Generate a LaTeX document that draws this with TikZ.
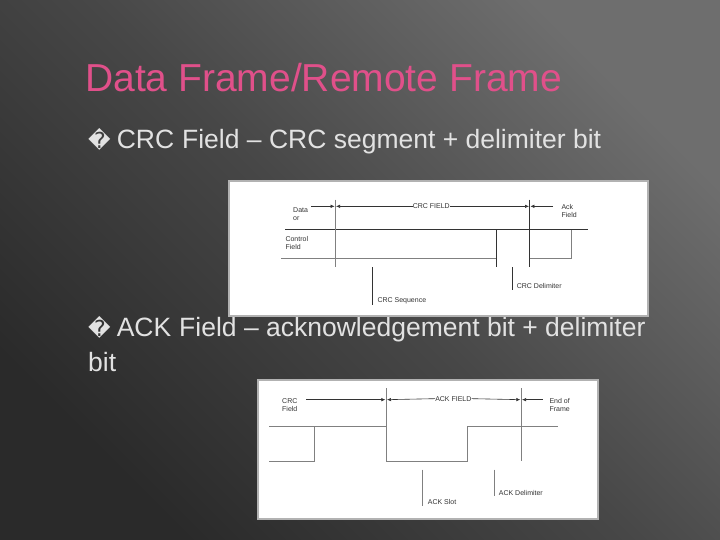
\documentclass[tikz,border=0pt]{standalone}
\usepackage{fontspec}
\setmainfont{Liberation Sans}
\newfontfamily\dejavu{DejaVu Sans}
\definecolor{titlepink}{HTML}{E0508A}
\definecolor{bodytext}{HTML}{E2E2E2}
\definecolor{bgdark}{HTML}{2A2A2A}
\definecolor{bglight}{HTML}{6E6E6E}
\definecolor{bgmid}{HTML}{474747}
\definecolor{ink}{HTML}{333333}
\usetikzlibrary{arrows.meta}
\begin{document}
\begin{tikzpicture}[x=1pt,y=-1pt,
  bodyline/.style={anchor=base west,text=bodytext,font=\fontsize{26.5}{30}\selectfont,inner sep=0},
  lab/.style={font=\fontsize{7}{8}\selectfont,text=ink,inner sep=0,align=left},
  sig/.style={draw=ink,line width=0.7pt},
  thin/.style={draw=gray,line width=0.5pt},
  arr/.style={draw=ink,line width=0.6pt,-{Latex[length=4pt,width=3.5pt]}},
  panel/.style={fill=white,draw=gray!60,line width=1.2pt}]
\shade[top color=bglight,bottom color=bgdark,middle color=bgmid,shading angle=-45] (0,0) rectangle (720,540);
\useasboundingbox (0,0) rectangle (720,540);
\node[anchor=base west,text=titlepink,font=\fontsize{39}{44}\selectfont,inner sep=0] (title) at (85,92) {Data Frame/Remote Frame};
\node[bodyline] (b1) at (88,149) {{\dejavu\fontsize{22}{24}\selectfont �}\hspace{6pt}CRC\hspace{8pt}Field – CRC segment + delimiter bit};
\node[bodyline] (b2) at (88,336) {{\dejavu\fontsize{22}{24}\selectfont �}\hspace{6pt}ACK\hspace{8pt}Field – acknowledgement bit + delimiter};
\node[bodyline] (b3) at (88,371) {bit};
% figure 1
\draw[panel] (229,181) rectangle (648,316);
\def\X#1{228+#1/3}\def\Y#1{178+#1/3}
\draw[sig] ({\X{172}},{\Y{155}}) -- ({\X{1080}},{\Y{155}});
\draw[thin] ({\X{160}},{\Y{242}}) -- ({\X{805}},{\Y{242}});
\draw[thin] ({\X{322}},{\Y{65}}) -- ({\X{322}},{\Y{268}});
\draw[sig] ({\X{805}},{\Y{155}}) -- ({\X{805}},{\Y{268}});
\draw[sig] ({\X{905}},{\Y{65}}) -- ({\X{905}},{\Y{268}});
\draw[thin] ({\X{905}},{\Y{242}}) -- ({\X{1030}},{\Y{242}}) -- ({\X{1030}},{\Y{155}});
\draw[sig] ({\X{432}},{\Y{268}}) -- ({\X{432}},{\Y{380}});
\draw[sig] ({\X{852}},{\Y{268}}) -- ({\X{852}},{\Y{335}});
\node[lab,anchor=west] (dc) at ({\X{195}},{\Y{108}}) {Data\\or};
\node[lab,anchor=west] (cf) at ({\X{172}},{\Y{195}}) {Control\\Field};
\node[lab] (crcf) at ({\X{610}},{\Y{85}}) {CRC FIELD};
\node[lab,anchor=west] (ackf) at ({\X{1000}},{\Y{100}}) {Ack\\Field};
\node[lab,anchor=west] (seq) at ({\X{448}},{\Y{368}}) {CRC Sequence};
\node[lab,anchor=west] (del) at ({\X{866}},{\Y{325}}) {CRC Delimiter};
\coordinate (a1) at ({\X{250}},{\Y{85}}); \coordinate (a2) at ({\X{320}},{\Y{85}});
\coordinate (a4) at ({\X{324}},{\Y{85}});
\coordinate (a6) at ({\X{903}},{\Y{85}});
\coordinate (a7) at ({\X{975}},{\Y{85}}); \coordinate (a8) at ({\X{907}},{\Y{85}});
\draw[arr] (a1) -- (a2);
\draw[arr] (crcf.west) -- (a4);
\draw[arr] (crcf.east) -- (a6);
\draw[arr] (a7) -- (a8);
% figure 2
\draw[panel] (258,380) rectangle (598,519);
\def\U#1{256+#1/3}\def\V#1{378+#1/3}
\draw[thin] ({\U{40}},{\V{145}}) -- ({\U{175}},{\V{145}});
\draw[thin] ({\U{40}},{\V{250}}) -- ({\U{175}},{\V{250}}) -- ({\U{175}},{\V{145}}) -- ({\U{390}},{\V{145}})
  -- ({\U{390}},{\V{250}}) -- ({\U{635}},{\V{250}}) -- ({\U{635}},{\V{145}}) -- ({\U{905}},{\V{145}});
\draw[thin] ({\U{390}},{\V{30}}) -- ({\U{390}},{\V{145}});
\draw[thin] ({\U{795}},{\V{30}}) -- ({\U{795}},{\V{250}});
\draw[thin] ({\U{500}},{\V{275}}) -- ({\U{500}},{\V{385}});
\draw[thin] ({\U{715}},{\V{275}}) -- ({\U{715}},{\V{355}});
\node[lab,anchor=west] (crcf2) at ({\U{78}},{\V{82}}) {CRC\\Field};
\node[lab] (ackfield) at ({\U{592}},{\V{62}}) {ACK FIELD};
\node[lab,anchor=west] (eof) at ({\U{880}},{\V{82}}) {End of\\Frame};
\node[lab,anchor=west] (slot) at ({\U{515}},{\V{373}}) {ACK Slot};
\node[lab,anchor=west] (adel) at ({\U{728}},{\V{345}}) {ACK Delimiter};
\coordinate (c1) at ({\U{150}},{\V{65}}); \coordinate (c2) at ({\U{388}},{\V{65}});
\coordinate (c4) at ({\U{393}},{\V{65}});
\coordinate (c6) at ({\U{793}},{\V{65}});
\coordinate (c7) at ({\U{860}},{\V{65}}); \coordinate (c8) at ({\U{798}},{\V{65}});
\draw[arr] (c1) -- (c2);
\draw[arr] (ackfield.west) -- (c4);
\draw[arr] (ackfield.east) -- (c6);
\draw[arr] (c7) -- (c8);
\end{tikzpicture}
\end{document}
